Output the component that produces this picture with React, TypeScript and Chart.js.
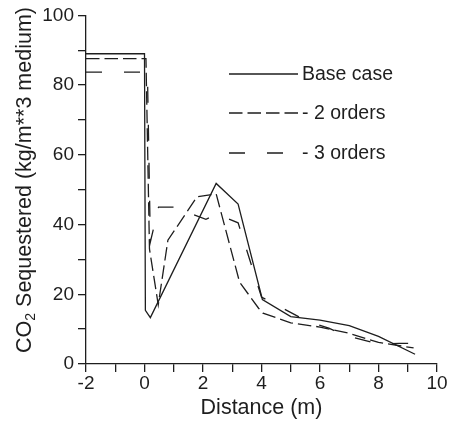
import React, { useEffect, useRef } from 'react';
import { Chart, registerables } from 'chart.js';

Chart.register(...registerables);

// ---- data ----
const baseX = [-2, 0, 0.03, 0.2, 2.45, 3.2, 4.03, 5.0, 6.0, 7.0, 8.0, 9.25];
const baseY = [89, 89, 15.4, 13.3, 51.8, 45.9, 18.5, 13.6, 12.6, 11.0, 7.9, 2.8];

const twoX = [-2, 0.05, 0.17, 0.47, 0.8, 1.8, 2.45, 3.25, 3.9, 4.05, 5.0, 6.0, 7.0, 8.0, 9.2];
const twoY = [87.6, 87.6, 33, 17, 35.5, 48, 48.8, 23.5, 16, 14.6, 11.8, 10.6, 8.8, 6.2, 4.6];

const threeX = [-2, 0.1, 0.2, 0.48, 1.0, 2.1, 2.45, 3.2, 4.0, 5.6, 6.3, 6.8, 8.0, 8.7, 9.25];
const threeY = [83.7, 83.7, 35, 45, 45, 41.5, 43, 40.5, 19.2, 12.1, 10.3, 8.4, 5.7, 5.9, 5.9];

const seriesLabels = ['Base case', '- 2 orders', '- 3 orders'];
const seriesDashes = [[], [13.5, 5], [16, 22]];

const xMin = -2, xMax = 10, xStep = 1, xLabelEvery = 2;
const yMin = 0, yMax = 100, yStep = 10, yLabelEvery = 20;

const xTitle = 'Distance (m)';
const yTitleMain = 'CO';
const yTitleSub = '2';
const yTitleRest = ' Sequestered (kg/m**3 medium)';

// ---- styles ----
const FONT = "'Liberation Sans', Arial, Helvetica, sans-serif";
const INK = '#1e1e1e';
const LINE_W = 1.3;

const pts = (xs: number[], ys: number[]) => xs.map((x, i) => ({ x, y: ys[i] }));

const annotPlugin = {
  id: 'annot',
  afterDraw(chart: any) {
    const ctx: CanvasRenderingContext2D = chart.ctx;
    const area = chart.chartArea;
    ctx.save();
    // Y axis title with subscript
    const size = 21.5;
    const subSize = 14;
    ctx.fillStyle = INK;
    ctx.font = `${size}px ${FONT}`;
    const w1 = ctx.measureText(yTitleMain).width;
    const w3 = ctx.measureText(yTitleRest).width;
    ctx.font = `${subSize}px ${FONT}`;
    const w2 = ctx.measureText(yTitleSub).width;
    const total = w1 + w2 + w3;
    ctx.translate(25, 180);
    ctx.rotate(-Math.PI / 2);
    ctx.textBaseline = 'middle';
    ctx.textAlign = 'left';
    let x = -total / 2;
    ctx.font = `${size}px ${FONT}`;
    ctx.fillText(yTitleMain, x, 0);
    x += w1;
    ctx.font = `${subSize}px ${FONT}`;
    ctx.fillText(yTitleSub, x, 6);
    x += w2;
    ctx.font = `${size}px ${FONT}`;
    ctx.fillText(yTitleRest, x, 0);
    ctx.restore();

    // Legend
    ctx.save();
    const rows = [74, 113, 153];
    const x0 = 229, x1 = 298;
    chart.data.datasets.forEach((ds: any, i: number) => {
      const y = rows[i];
      ctx.beginPath();
      ctx.setLineDash(ds.borderDash || []);
      ctx.lineWidth = LINE_W;
      ctx.strokeStyle = INK;
      ctx.moveTo(x0, y);
      ctx.lineTo(x1, y);
      ctx.stroke();
      ctx.setLineDash([]);
      ctx.fillStyle = INK;
      ctx.font = `19.5px ${FONT}`;
      ctx.textBaseline = 'middle';
      ctx.textAlign = 'left';
      ctx.fillText(ds.label, x1 + 4, y + 1);
    });
    ctx.restore();
  },
};

export default function App() {
  const ref = useRef<HTMLCanvasElement | null>(null);

  useEffect(() => {
    if (!ref.current) return;
    const series = [pts(baseX, baseY), pts(twoX, twoY), pts(threeX, threeY)];
    const chart = new Chart(ref.current, {
      type: 'line',
      data: {
        datasets: series.map((d, i) => ({
          label: seriesLabels[i],
          data: d,
          borderColor: INK,
          borderWidth: LINE_W,
          borderDash: seriesDashes[i],
          pointRadius: 0,
          tension: 0,
          fill: false,
        })),
      },
      options: {
        responsive: false,
        animation: false,
        devicePixelRatio: 1,
        layout: { padding: { top: 14, right: 15, left: 0, bottom: 0 } },
        plugins: {
          legend: { display: false },
          tooltip: { enabled: false },
          title: { display: false },
        },
        scales: {
          x: {
            type: 'linear',
            min: xMin,
            max: xMax,
            afterFit: (s: any) => { s.height = 58; },
            ticks: {
              stepSize: xStep,
              autoSkip: false,
              maxRotation: 0,
              padding: 0,
              color: INK,
              font: { family: FONT, size: 19 },
              callback: (v: any) => (Number(v) % xLabelEvery === 0 ? String(v) : ''),
            },
            grid: {
              drawOnChartArea: false,
              drawTicks: true,
              tickLength: 8,
              color: INK,
              lineWidth: LINE_W,
            },
            border: { display: true, color: INK, width: LINE_W },
            title: {
              display: true,
              text: xTitle,
              color: INK,
              font: { family: FONT, size: 21.5 },
              padding: { top: 0, bottom: 1 },
            },
          },
          y: {
            type: 'linear',
            min: yMin,
            max: yMax,
            afterFit: (s: any) => { s.width = 86; },
            ticks: {
              stepSize: yStep,
              autoSkip: false,
              padding: 4,
              color: INK,
              font: { family: FONT, size: 19 },
              callback: (v: any) => (Number(v) % yLabelEvery === 0 ? String(v) : ''),
            },
            grid: {
              drawOnChartArea: false,
              drawTicks: true,
              tickLength: 8,
              color: INK,
              lineWidth: LINE_W,
            },
            border: { display: true, color: INK, width: LINE_W },
            title: { display: false },
          },
        },
      },
      plugins: [annotPlugin],
    } as any);
    return () => chart.destroy();
  }, []);

  return (
    <div style={{ position: 'absolute', left: 0, top: 0, width: 452, height: 422, background: '#fff' }}>
      <canvas ref={ref} width={452} height={422} style={{ display: 'block' }} />
    </div>
  );
}
